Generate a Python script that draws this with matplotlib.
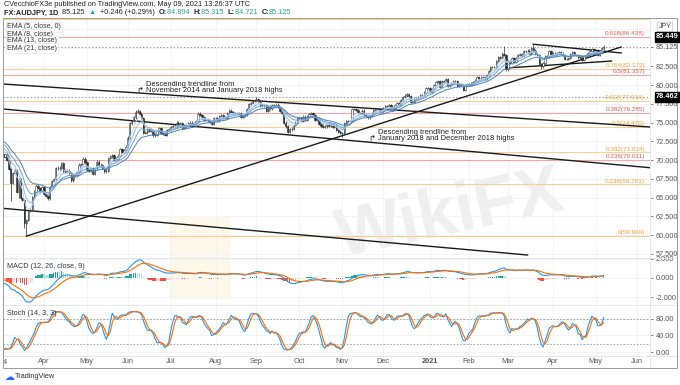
import numpy as np
import pandas as pd
import matplotlib
matplotlib.use('Agg')
import matplotlib.pyplot as plt
import matplotlib.patches as patches

plt.rcParams['font.family'] = ['Liberation Sans', 'DejaVu Sans']

# ---- data (AUDJPY daily closes; first weeks are EMA warm-up) ----
start_date = '2020-02-03'
first_visible = '2020-03-04'
closes = [
    72.6, 73.5, 73.9, 74.2, 73.6,  73.4, 73.9, 74.2, 73.9, 73.8,
    73.6, 73.4, 74.0, 74.0, 73.5,  72.9, 72.6, 72.5, 71.8, 70.7,
    70.8, 70.4, 70.8, 70.0, 68.8,  67.0, 68.3, 68.6, 65.8, 67.4,
    64.9, 64.7, 61.6, 62.0, 63.2,  63.4, 65.1, 65.8, 66.6, 66.3,
    65.9, 66.4, 65.5, 65.2, 64.9,  66.4, 67.2, 67.5, 68.9, 69.0,
    68.9, 69.6, 68.6, 68.4, 68.6,  68.3, 67.3, 68.1, 68.0, 68.4,
    69.4, 69.5, 70.2, 69.7, 68.7,  68.6, 68.9, 68.2, 68.9, 69.8,
    69.4, 69.3, 69.0, 68.5, 68.6,  70.3, 70.5, 70.7, 70.0, 70.2,
    70.6, 71.5, 71.1, 71.3, 71.8,  73.0, 74.9, 75.2, 75.7, 76.4,
    76.5, 76.2, 75.6, 73.6, 73.7,  74.1, 73.9, 73.9, 73.3, 73.4,
    73.9, 74.3, 73.6, 73.5, 73.4,  74.0, 74.1, 74.4, 74.6, 74.5,
    75.0, 74.6, 74.9, 74.3, 74.5,  74.7, 74.9, 75.0, 74.8, 74.9,
    75.2, 76.2, 76.0, 75.7, 75.4,  75.5, 75.3, 75.1, 74.8, 75.6,
    75.6, 75.3, 75.9, 76.0, 75.7,  75.6, 76.3, 76.6, 76.4, 76.3,
    76.3, 76.3, 76.2, 75.8, 75.9,  76.1, 76.8, 77.5, 77.6, 77.9,
    78.0, 78.1, 77.8, 77.3, 77.3,  77.3, 76.6, 77.2, 76.9, 77.3,
    77.2, 77.4, 77.1, 76.6, 76.3,  75.0, 74.5, 73.8, 74.1, 74.2,
    74.7, 75.0, 75.6, 75.6, 75.2,  75.8, 75.4, 75.9, 76.1, 76.3,
    76.0, 75.4, 75.5, 74.8, 74.6,  74.4, 74.5, 74.8, 74.6, 74.8,
    74.4, 74.6, 74.0, 73.8, 73.6,  73.6, 74.9, 75.2, 75.2, 75.2,
    76.8, 76.8, 76.7, 76.3, 76.3,  76.6, 76.1, 75.9, 75.7, 75.9,
    76.2, 76.7, 76.8, 76.8, 76.6,  76.5, 76.9, 77.2, 77.2, 77.3,
    76.8, 77.0, 77.3, 77.6, 77.4,  78.0, 78.4, 78.6, 78.8, 78.5,
    77.8, 77.8, 78.2, 78.3, 78.4,  78.7, 78.7, 79.0, 79.6, 79.6,
    79.1, 79.5, 80.0, 80.4, 80.5,  79.8, 80.5, 80.4, 80.8, 79.9,
    80.0, 80.3, 80.5, 80.5, 79.9,  80.1, 80.0, 79.4, 80.0, 80.1,
    80.0, 80.2, 80.4, 80.6, 81.1,  80.9, 81.0, 81.1, 80.9, 81.3,
    81.9, 82.4, 82.4, 82.4, 83.2,  83.7, 83.6, 84.2, 84.0, 82.1,
    83.2, 83.0, 83.6, 83.1, 83.6,  84.0, 84.1, 83.9, 84.5, 84.5,
    84.6, 84.2, 84.9, 84.6, 84.2,  84.0, 82.8, 82.5, 82.9, 83.8,
    83.8, 84.5, 84.2, 84.1, 84.2,  84.3, 84.4, 84.2, 84.0, 83.5,
    83.5, 83.6, 84.1, 84.4, 84.0,  84.0, 83.7, 83.9, 83.4, 83.9,
    84.0, 84.3, 84.6, 84.8, 84.4,  84.6, 84.0, 84.4, 84.9, 85.125,
]
wick_lows = {'2020-03-09': 64.6, '2020-03-19': 59.869, '2020-03-13': 64.9,
             '2020-03-18': 61.0, '2021-03-24': 82.2, '2020-11-02': 73.1}
wick_highs = {'2020-09-01': 78.462, '2021-03-18': 85.449, '2021-02-25': 85.2,
              '2020-06-08': 76.8, '2020-06-05': 76.7}

fib_prices = [86.428, 82.179, 81.357, 77.916, 76.285, 74.470, 71.024, 70.011, 66.761, 59.869]
fib_labels = ['0.618(86.428)', '0.764(82.179)', '0.5(81.357)', '0.618(77.916)', '0.382(76.285)',
              '0.5(74.470)', '0.382(71.024)', '0.236(70.011)', '0.236(66.761)', '0(59.869)']
fib_kind = ['r', 'o', 'r', 'o', 'r', 'o', 'o', 'r', 'o', 'o']

# trendlines: (date, price) pairs
trendlines = [
    (('2020-03-03', 80.15), ('2021-06-11', 74.40)),
    (('2020-03-03', 76.82), ('2021-06-11', 68.96)),
    (('2020-02-28', 63.62), ('2021-03-15', 57.35)),
    (('2020-03-19', 59.869), ('2021-05-20', 85.08)),
    (('2021-03-18', 85.449), ('2021-05-20', 84.29)),
    (('2021-02-26', 82.28), ('2021-05-13', 83.21)),
]

month_labels = ['Apr', 'May', 'Jun', 'Jul', 'Aug', 'Sep', 'Oct', 'Nov', 'Dec',
                '2021', 'Feb', 'Mar', 'Apr', 'May', 'Jun']
month_starts = ['2020-04-01', '2020-05-01', '2020-06-01', '2020-07-01', '2020-08-03',
                '2020-09-01', '2020-10-01', '2020-11-02', '2020-12-01', '2021-01-04',
                '2021-02-01', '2021-03-01', '2021-04-01', '2021-05-03', '2021-06-01']


def pos(d):
    return float(np.busday_count(start_date, d))


dates = pd.bdate_range(start_date, periods=len(closes))
c = pd.Series(closes, index=dates)
o = c.shift(1).fillna(c.iloc[0])
h = np.maximum(o, c) + 0.18
l = np.minimum(o, c) - 0.18
for d, v in wick_lows.items():
    l[pd.Timestamp(d)] = v
for d, v in wick_highs.items():
    h[pd.Timestamp(d)] = v
x = np.arange(len(c))

emas = [c.ewm(span=n, adjust=False).mean() for n in (5, 8, 13, 21)]
macd = c.ewm(span=12, adjust=False).mean() - c.ewm(span=26, adjust=False).mean()
signal = macd.ewm(span=9, adjust=False).mean()
hist = macd - signal
ll = l.rolling(14, min_periods=1).min()
hh = h.rolling(14, min_periods=1).max()
k_raw = 100 * (c - ll) / (hh - ll)
k = k_raw.rolling(3, min_periods=1).mean()
dline = k.rolling(3, min_periods=1).mean()

# ---- figure ----
W, H = 680, 385
fig = plt.figure(figsize=(6.8, 3.85), dpi=100, facecolor='white')


def fx(px):
    return px / W


def fy(py):
    return 1 - py / H


L, R = 3, 650
ax = fig.add_axes([fx(L), fy(258), fx(R) - fx(L), fy(18) - fy(258)])
axm = fig.add_axes([fx(L), fy(305), fx(R) - fx(L), fy(258) - fy(305)], sharex=ax)
axs = fig.add_axes([fx(L), fy(356), fx(R) - fx(L), fy(305) - fy(356)], sharex=ax)

x0 = pos(first_visible) - 1.0
x1 = x0 + (R - L) / 1.95
ax.set_xlim(x0, x1)

grid_c = '#f1f3f6'
tick_c = '#555555'
for a in (ax, axm, axs):
    for s in a.spines.values():
        s.set_visible(False)
    a.yaxis.tick_right()
    a.tick_params(axis='y', labelsize=5.3, colors=tick_c, length=2, width=0.5, pad=2)
    a.tick_params(axis='x', length=0)
    for mp in month_starts:
        a.axvline(pos(mp), color=grid_c, lw=0.6, zorder=0)
    a.set_facecolor('none')

# faint watermark behind the panels
fig.patches.append(patches.FancyBboxPatch((fx(172), fy(298)), fx(56), fy(218) - fy(298),
                   boxstyle='round,pad=0.004', transform=fig.transFigure,
                   facecolor='#fdf8ea', edgecolor='none', zorder=-5))
fig.text(fx(450), fy(215), 'WikiFX', fontsize=50, fontweight='bold', color='#efefef',
         rotation=12, ha='center', va='center', zorder=-4)

# main panel
ax.set_ylim(56.95, 88.95)
yt = [57.5, 60, 62.5, 65, 67.5, 70, 72.5, 75, 77.5, 80, 82.5, 85.125]
ax.set_yticks(yt)
ax.set_yticklabels([f'{v:.3f}' for v in yt])
for v in np.arange(57.5, 88, 2.5):
    ax.axhline(v, color=grid_c, lw=0.6, zorder=0)
ax.tick_params(axis='x', labelbottom=False)

orange_line, orange_txt = '#f9cf96', '#f2a33a'
red_line, red_txt = '#f4a6a6', '#e05b5b'
ax.axhline(88.8, color=orange_line, lw=0.8, zorder=1)
for p, lab, kd in zip(fib_prices, fib_labels, fib_kind):
    lc, tc = (red_line, red_txt) if kd == 'r' else (orange_line, orange_txt)
    ax.axhline(p, color=lc, lw=0.8, zorder=1)
    ax.text(x1 - 2.5, p + 0.12, lab, color=tc, fontsize=4.6, ha='right', va='bottom', zorder=2)

ax.axhline(85.125, color='#9a9a9a', lw=0.7, ls=(0, (1.5, 2)), zorder=1)
ax.axhline(78.462, color='#9a9a9a', lw=0.7, ls=(0, (1.5, 2)), zorder=1)

for (da, pa), (db, pb) in trendlines:
    ax.plot([pos(da), pos(db)], [pa, pb], color='#1a1a1a', lw=1.0, zorder=3)

up = (c >= o).values
ax.vlines(x, l.values, h.values, color='#2b2b2b', lw=0.5, zorder=4)
body_lo = np.minimum(o, c).values
body_h = np.maximum(np.abs(c - o).values, 0.05)
ax.bar(x[up], body_h[up], bottom=body_lo[up], width=0.7, color='white',
       edgecolor='#2b2b2b', linewidth=0.4, zorder=5)
ax.bar(x[~up], body_h[~up], bottom=body_lo[~up], width=0.7, color='#2b2b2b',
       edgecolor='#2b2b2b', linewidth=0.4, zorder=5)

ema_cols = ['#b8d6f2', '#92bde6', '#6ca2d6', '#4a83c0']
for e, col in zip(emas, ema_cols):
    ax.plot(x, e.values, color=col, lw=0.7, zorder=6)

# MACD panel
axm.set_ylim(-2.84, 2.1)
axm.set_yticks([2, 0, -2])
axm.set_yticklabels(['2.000', '0.000', '-2.000'])
axm.tick_params(axis='x', labelbottom=False)
for v in (2, 0, -2):
    axm.axhline(v, color=grid_c, lw=0.6, zorder=0)
hv = hist.values
prev = np.r_[hv[0], hv[:-1]]
hcols = np.where(hv >= 0, np.where(hv >= prev, '#26a69a', '#b2dfdb'),
                 np.where(hv < prev, '#ef5350', '#ffcdd2'))
axm.bar(x, hv, width=0.8, color=hcols, zorder=2)
axm.plot(x, macd.values, color='#2196f3', lw=0.8, zorder=3)
axm.plot(x, signal.values, color='#ff6d00', lw=0.8, zorder=3)
axm.text(0.006, 0.9, 'MACD (12, 26, close, 9)', transform=axm.transAxes, fontsize=5.2,
         color='#333333', va='top')

# Stoch panel
axs.set_ylim(-9.4, 113)
axs.set_yticks([80, 40, 0])
axs.set_yticklabels(['80.00', '40.00', '0.00'])
for v in (80, 40, 0):
    axs.axhline(v, color=grid_c, lw=0.6, zorder=0)
axs.axhline(80, color='#9a9a9a', lw=0.6, ls=(0, (2, 2)), zorder=1)
axs.axhline(20, color='#9a9a9a', lw=0.6, ls=(0, (2, 2)), zorder=1)
axs.plot(x, k.values, color='#2196f3', lw=0.8, zorder=3)
axs.plot(x, dline.values, color='#ff6d00', lw=0.8, zorder=3)
axs.text(0.006, 0.9, 'Stoch (14, 3, 3)', transform=axs.transAxes, fontsize=5.2,
         color='#333333', va='top')
axs.set_xticks([pos(m) for m in month_starts])
axs.set_xticklabels(month_labels)
axs.tick_params(axis='x', labelsize=5.3, colors=tick_c, pad=1.5)
for t in axs.get_xticklabels():
    if t.get_text() == '2021':
        t.set_fontweight('bold')
fig.text(fx(3), fy(362), '4', fontsize=5.3, color=tick_c, va='center')

# panel separators and outer frame
for yy in (258, 305, 356):
    fig.add_artist(plt.Line2D([fx(L), fx(677)], [fy(yy), fy(yy)], color='#e0e3eb', lw=0.6))
fig.add_artist(plt.Line2D([fx(R), fx(R)], [fy(18), fy(368)], color='#e0e3eb', lw=0.6))
fig.patches.append(patches.Rectangle((fx(3), fy(368)), fx(677) - fx(3), fy(18) - fy(368),
                   transform=fig.transFigure, fill=False, edgecolor='#9a9a9a', lw=0.7, zorder=10))

# price labels
for py, txt in ((37, '85.449'), (97, '78.462')):
    fig.text(fx(656), fy(py), txt, fontsize=5.3, color='white', va='center', ha='left',
             fontweight='bold', bbox=dict(boxstyle='square,pad=0.2', fc='black', ec='black'), zorder=11)
fig.text(fx(665), fy(27), 'JPY', fontsize=5.0, color='#444444', va='center', ha='center',
         bbox=dict(boxstyle='round,pad=0.2', fc='white', ec='#bbbbbb', lw=0.5))

# headers and legend
fig.text(fx(4), fy(5), 'CVecchioFX3e published on TradingView.com, May 09, 2021 13:26:37 UTC',
         fontsize=5.3, color='#222222', va='center')
renderer = fig.canvas.get_renderer()
cx = fx(4)
header = [('FX:AUDJPY, 1D ', '#222222', 'bold'), ('85.125 ', '#222222', 'normal'),
          ('\u25b2 ', '#26a69a', 'normal'), ('+0.246 (+0.29%) ', '#222222', 'normal'),
          ('O:', '#222222', 'bold'), ('84.894 ', '#26a69a', 'normal'),
          ('H:', '#222222', 'bold'), ('85.315 ', '#26a69a', 'normal'),
          ('L:', '#222222', 'bold'), ('84.721 ', '#26a69a', 'normal'),
          ('C:', '#222222', 'bold'), ('85.125', '#26a69a', 'normal')]
for txt, col, wt in header:
    t = fig.text(cx, fy(13), txt, fontsize=5.3, color=col, fontweight=wt, va='center')
    bb = t.get_window_extent(renderer)
    cx = bb.x1 / W + (2.0 / W if txt.endswith(' ') else 0)
for i, lab in enumerate(['EMA (5, close, 0)', 'EMA (8, close)', 'EMA (13, close)', 'EMA (21, close)']):
    fig.text(fx(7), fy(27 + 7 * i), lab, fontsize=5.0, color='#333333', va='center',
             bbox=dict(boxstyle='square,pad=0.15', fc='white', ec='#e3e3e3', lw=0.4))

# annotations
fig.text(fx(136), fy(91), '\u21b1', fontsize=6, color='#222222', va='center',
         family=['DejaVu Sans'])
fig.text(fx(146), fy(84), 'Descending trendline from', fontsize=5.4, color='#222222', va='center')
fig.text(fx(146), fy(91), 'November 2014 and January 2018 highs', fontsize=5.4, color='#222222', va='center')
fig.text(fx(368), fy(139), '\u21b1', fontsize=6, color='#222222', va='center',
         family=['DejaVu Sans'])
fig.text(fx(378), fy(132), 'Descending trendline from', fontsize=5.4, color='#222222', va='center')
fig.text(fx(378), fy(139), 'January 2018 and December 2018 highs', fontsize=5.4, color='#222222', va='center')

# TradingView footer
fig.text(fx(4), fy(377), '\u2601', fontsize=7, color='#2962ff', va='center', family=['DejaVu Sans'])
fig.text(fx(15), fy(377), 'TradingView', fontsize=5.3, color='#333333', va='center')

fig.savefig('out.png', dpi=100, facecolor='white')
